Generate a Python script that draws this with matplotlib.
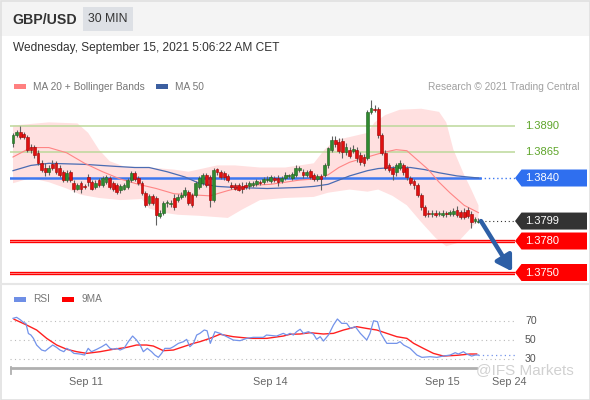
import matplotlib
matplotlib.use('Agg')
import matplotlib.pyplot as plt
from matplotlib.patches import Rectangle, Polygon
import numpy as np

plt.rcParams['font.family'] = ['Liberation Sans', 'DejaVu Sans']

# ---------------- data ----------------
opens = [1.3873,1.3881,1.3884,1.3882,1.3879,1.3870,1.3870,1.3864,1.3854,1.3850,
         1.3846,1.3853,1.3854,1.3850,1.3846,1.3838,1.3846,1.3835,1.3830,1.3835,
         1.3832,1.3841,1.3836,1.3831,1.3838,1.3833,1.3836,1.3840,1.3835,1.3833,
         1.3829,1.3830,1.3831,1.3838,1.3845,1.3840,1.3835,1.3826,1.3816,1.3823,
         1.3821,1.3804,1.3807,1.3816,1.3815,1.3821,1.3819,1.3822,1.3824,1.3827,
         1.3824,1.3824,1.3831,1.3835,1.3843,1.3841,1.3819,1.3849,1.3846,1.3845,
         1.3842,1.3833,1.3833,1.3833,1.3832,1.3833,1.3832,1.3833,1.3834,1.3836,
         1.3836,1.3838,1.3837,1.3840,1.3840,1.3837,1.3840,1.3842,1.3840,1.3843,
         1.3848,1.3846,1.3843,1.3847,1.3843,1.3839,1.3842,1.3843,1.3852,1.3867,
         1.3876,1.3874,1.3875,1.3865,1.3867,1.3866,1.3867,1.3862,1.3860,1.3859,
         1.3903,1.3906,1.3906,1.3881,1.3864,1.3852,1.3850,1.3846,1.3850,1.3852,
         1.3850,1.3840,1.3837,1.3833,1.3824,1.3812,1.3807,1.3806,1.3807,1.3806,
         1.3805,1.3807,1.3806,1.3806,1.3810,1.3808,1.3808,1.3810,1.3806,1.3799,
         1.3798]
highs = [1.3883,1.3886,1.3890,1.3884,1.3881,1.3872,1.3871,1.3867,1.3857,1.3854,
         1.3852,1.3857,1.3856,1.3852,1.3848,1.3848,1.3848,1.3838,1.3835,1.3837,
         1.3834,1.3844,1.3838,1.3838,1.3840,1.3842,1.3843,1.3842,1.3837,1.3835,
         1.3834,1.3835,1.3840,1.3847,1.3847,1.3842,1.3837,1.3828,1.3825,1.3825,
         1.3823,1.3810,1.3818,1.3819,1.3819,1.3825,1.3825,1.3827,1.3831,1.3829,
         1.3826,1.3837,1.3842,1.3845,1.3845,1.3843,1.3850,1.3850,1.3848,1.3847,
         1.3844,1.3836,1.3835,1.3835,1.3836,1.3836,1.3837,1.3837,1.3839,1.3838,
         1.3841,1.3842,1.3843,1.3842,1.3843,1.3842,1.3846,1.3844,1.3846,1.3852,
         1.3851,1.3849,1.3848,1.3849,1.3845,1.3844,1.3844,1.3854,1.3870,1.3880,
         1.3880,1.3878,1.3878,1.3873,1.3870,1.3871,1.3870,1.3865,1.3863,1.3905,
         1.3914,1.3910,1.3908,1.3883,1.3867,1.3854,1.3851,1.3854,1.3857,1.3854,
         1.3851,1.3842,1.3839,1.3835,1.3826,1.3814,1.3810,1.3810,1.3810,1.3809,
         1.3810,1.3809,1.3810,1.3811,1.3813,1.3810,1.3811,1.3812,1.3809,1.3803,
         1.3802]
lows = [1.3870,1.3879,1.3877,1.3877,1.3865,1.3864,1.3859,1.3852,1.3846,1.3842,
        1.3843,1.3848,1.3844,1.3841,1.3836,1.3836,1.3836,1.3827,1.3829,1.3826,
        1.3830,1.3832,1.3829,1.3830,1.3831,1.3831,1.3834,1.3830,1.3828,1.3825,
        1.3826,1.3829,1.3830,1.3836,1.3837,1.3833,1.3824,1.3812,1.3814,1.3814,
        1.3795,1.3802,1.3805,1.3812,1.3812,1.3810,1.3817,1.3820,1.3822,1.3814,
        1.3812,1.3822,1.3830,1.3833,1.3831,1.3812,1.3817,1.3843,1.3839,1.3838,
        1.3836,1.3830,1.3829,1.3828,1.3826,1.3830,1.3830,1.3831,1.3832,1.3833,
        1.3834,1.3836,1.3835,1.3836,1.3832,1.3835,1.3838,1.3840,1.3838,1.3841,
        1.3846,1.3840,1.3841,1.3839,1.3837,1.3837,1.3829,1.3841,1.3850,1.3865,
        1.3870,1.3864,1.3859,1.3862,1.3859,1.3864,1.3855,1.3852,1.3851,1.3857,
        1.3901,1.3903,1.3878,1.3862,1.3848,1.3846,1.3838,1.3842,1.3848,1.3843,
        1.3838,1.3833,1.3830,1.3822,1.3810,1.3803,1.3803,1.3803,1.3803,1.3804,
        1.3803,1.3803,1.3804,1.3804,1.3803,1.3801,1.3801,1.3802,1.3792,1.3797,
        1.3797]
closes = [1.3881,1.3884,1.3879,1.3879,1.3867,1.3867,1.3862,1.3854,1.3848,1.3846,
          1.3850,1.3850,1.3846,1.3843,1.3838,1.3845,1.3838,1.3830,1.3833,1.3830,
          1.3831,1.3836,1.3830,1.3835,1.3833,1.3840,1.3841,1.3831,1.3830,1.3827,
          1.3832,1.3833,1.3838,1.3845,1.3839,1.3835,1.3826,1.3814,1.3823,1.3816,
          1.3805,1.3807,1.3816,1.3817,1.3816,1.3812,1.3822,1.3824,1.3829,1.3816,
          1.3814,1.3835,1.3840,1.3843,1.3833,1.3819,1.3848,1.3846,1.3841,1.3841,
          1.3838,1.3831,1.3830,1.3829,1.3830,1.3831,1.3835,1.3835,1.3837,1.3835,
          1.3839,1.3839,1.3841,1.3838,1.3836,1.3840,1.3843,1.3843,1.3844,1.3850,
          1.3850,1.3843,1.3846,1.3841,1.3839,1.3842,1.3839,1.3852,1.3869,1.3876,
          1.3872,1.3866,1.3865,1.3870,1.3861,1.3868,1.3859,1.3855,1.3854,1.3903,
          1.3907,1.3905,1.3881,1.3864,1.3850,1.3848,1.3844,1.3852,1.3854,1.3846,
          1.3841,1.3835,1.3833,1.3824,1.3812,1.3805,1.3806,1.3807,1.3805,1.3807,
          1.3807,1.3806,1.3808,1.3809,1.3805,1.3803,1.3803,1.3804,1.3798,1.3801,
          1.3799]

ma20_x = [0,5,10,15,20,25,30,35,40,45,50,55,60,66,72,76,80,84,88,91,94,99,103,107,110,113,116,119,122,126,130]
ma20_y = [1.3860,1.3869,1.3869,1.3864,1.3854,1.3846,1.3839,1.3834,1.3830,1.3825,1.3824,1.3823,1.3828,
          1.3833,1.3834,1.3836,1.3838,1.3839,1.3843,1.3850,1.3855,1.3860,1.3864,1.3867,1.3866,1.3857,
          1.3848,1.3836,1.3826,1.3814,1.3807]
ma50_x = [0,5,10,20,29,34,38,43,48,52,57,62,71,80,84,88,91,94,99,102,106,111,115,119,124,130]
ma50_y = [1.3847,1.3852,1.3854,1.3853,1.3851,1.3850,1.3850,1.3846,1.3841,1.3835,1.3832,1.3831,1.3830,
          1.3831,1.3832,1.3834,1.3838,1.3842,1.3847,1.3849,1.3850,1.3850,1.3848,1.3845,1.3842,1.3840]
bb_up_x = [0,10,18,21,24,27,31,38,45,49,53,57,62,69,76,84,87,90,94,99,101,104,108,114,119,121,123,126,128,130]
bb_up_y = [1.3890,1.3893,1.3892,1.3883,1.3867,1.3856,1.3851,1.3850,1.3848,1.3846,1.3849,1.3852,1.3852,
           1.3850,1.3850,1.3854,1.3867,1.3876,1.3879,1.3883,1.3893,1.3900,1.3905,1.3906,1.3903,1.3893,
           1.3867,1.3843,1.3829,1.3814]
bb_lo_x = [0,5,10,15,19,24,30,36,38,42,46,52,56,60,64,69,76,84,88,94,99,102,106,110,114,118,121,124,127,130]
bb_lo_y = [1.3835,1.3840,1.3836,1.3830,1.3824,1.3821,1.3819,1.3820,1.3811,1.3807,1.3805,1.3804,1.3803,
           1.3802,1.3810,1.3819,1.3821,1.3822,1.3826,1.3829,1.3827,1.3829,1.3823,1.3814,1.3798,1.3783,
           1.3775,1.3778,1.3789,1.3800]

rsi_x = [0,1,2,3,3.6,4.3,5,5.7,6.6,8,9,9.9,11.1,12.2,13.1,14.2,15,15.9,17,18.7,20,21,21.9,23.4,24.8,
         26,27.1,28,29,29.9,31,32.2,33.4,34.5,35.5,36.4,37.5,38.7,39.6,40.6,41.5,42.4,43.9,44.8,46.2,
         47.6,48.5,49.4,50.4,51.3,52.2,53.4,54.2,55.1,56.4,57.8,59.7,61.5,63.4,65.3,67.1,69.9,70.8,
         73.6,75.5,76.4,77.4,78.3,79.2,80.2,81.1,82.5,83.9,84.8,85.8,86.7,88.1,89.5,90.6,91.8,93.2,
         94.2,95.6,97,98.8,99.7,100.7,101.8,102.7,104.4,106.3,107.2,108.1,109.1,110.9,112.8,114.2,
         116.5,118.4,120.2,122.1,123.5,124.4,125.8,126.7,128.1,129.1,130]
rsi_v = [73.4,74.5,72,68.7,68,57,55.4,51.8,44.6,39.2,38.1,41,44.6,42,39.2,37.4,41,39.2,35.6,34.9,33.8,
         41,37.4,40,42.8,45.7,41,40,41,39.2,41,48.2,54.3,50,44.6,37.4,41,37.4,33.8,31.3,35.6,41,41,
         42.8,46.4,48.2,50.7,42.8,46.4,55.4,57.2,60.8,60,46.4,59,57.2,53.6,50,49.3,51.8,52.9,52.9,55.4,
         54.3,57.2,55.4,57.2,55.4,59,61.6,57.2,59,56.5,50.8,53.6,48.9,55.4,66.2,72.7,68,68,62.6,64.4,
         57.2,50,57.2,70.8,69.8,57.2,46.4,46.4,46.4,48.2,44.6,41,33.8,31.3,32,31.3,32.7,33.8,36.3,34.9,
         37.4,34.9,32.7,33.8,33.8]
ma9_x = [0.3,3.8,6.6,9.4,12.2,15,17.8,20.6,24.3,28,31.7,34.5,37.3,39.2,42,44.8,47.6,50.4,52.2,55,57.8,
         61.5,66.2,70.9,75.5,77.4,80.2,83,86.7,89.5,92.3,96,98.8,101.6,104.4,107.2,110,111.9,114.6,
         117.4,120.2,124,127.7,129.5]
ma9_v = [72.4,66.2,60.8,51.8,44.6,40,37.4,35.6,37.4,40,42,44.6,44.6,43.5,38.5,39.2,42.8,46.4,48.2,51.8,
         56.2,53.6,51.8,51.8,54.3,56.2,56.5,57.9,56.5,57.2,60.8,64.4,62.5,60.8,57.2,53.6,51.8,46.4,41,
         35.6,32.7,33.5,34.9,34.9]

levels_green = [1.3890, 1.3865]
level_pivot = 1.3840
level_last = 1.3799
levels_red = [1.3780, 1.3750]
rsi_levels = [70, 50, 30]
tick_pos = [20.4, 72, 120, 138.5]
tick_labels = ['Sep 11', 'Sep 14', 'Sep 15', 'Sep 24']

# ---------------- figure ----------------
W, H = 590, 400
fig = plt.figure(figsize=(5.9, 4.0), dpi=100)
fig.patch.set_facecolor('white')

def fx(px):
    return px / W

def fy(py):
    return 1 - py / H

ax = fig.add_axes([fx(10), fy(283), fx(515) - fx(10), fy(60) - fy(283)])
rax = fig.add_axes([fx(10), fy(368), fx(515) - fx(10), fy(290) - fy(368)])
ov = fig.add_axes([0, 0, 1, 1], zorder=5)
ov.set_xlim(0, W)
ov.set_ylim(H, 0)
ov.axis('off')

XMIN, XMAX = -0.84, 140.2
ax.set_xlim(XMIN, XMAX)
ax.set_ylim(1.3740, 1.39524)
ax.axis('off')
rax.set_xlim(XMIN, XMAX)
rax.set_ylim(19.8, 104)

n = len(closes)
xs = np.arange(n)
o = np.array(opens); c = np.array(closes); h = np.array(highs); l = np.array(lows)

# Bollinger band
ax.fill(np.concatenate([bb_up_x, bb_lo_x[::-1]]), np.concatenate([bb_up_y, bb_lo_y[::-1]]),
        color='#ffe0e0', lw=0, zorder=1)

# levels
for lv in levels_green:
    ax.axhline(lv, color='#bcd89a', lw=1.1, zorder=2)
ax.plot([XMIN, n - 0.5], [level_pivot] * 2, color='#3d78f0', lw=1.8, zorder=2)
ax.plot([n - 0.5, XMAX], [level_pivot] * 2, color='#3d78f0', lw=1.0, ls=(0, (1, 2)), zorder=2)
ax.plot([n - 0.3, XMAX], [level_last] * 2, color='#333333', lw=0.8, ls=(0, (1, 2.5)), zorder=2)
for lv in levels_red:
    ax.axhline(lv, color='#ff0000', lw=2.4, zorder=2)
    ax.axhline(lv, color='#ffb0b0', lw=0.5, zorder=2)

# moving averages
ax.plot(ma50_x, ma50_y, color='#4a6cb3', lw=0.9, zorder=3)
ax.plot(ma20_x, ma20_y, color='#ff8585', lw=0.8, zorder=3)

# candles
ax.vlines(xs, l, h, color='#606060', lw=0.8, zorder=4)
up = c >= o
body_col = np.where(up, '#2f8a2f', '#e01010')
edge_col = np.where(up, '#1f5f1f', '#a00000')
ax.bar(xs, np.maximum(np.abs(c - o), 0.00005), bottom=np.minimum(o, c), width=0.78,
       color=body_col, edgecolor=edge_col, lw=0.4, zorder=5)

# arrow
ax.annotate('', xy=(139.4, 1.3751), xytext=(130.7, 1.3799),
            arrowprops=dict(arrowstyle='-|>,head_length=0.9,head_width=0.55', color='#2d5fa6',
                            lw=3.2, shrinkA=0, shrinkB=0), zorder=6)

# RSI panel
for v in rsi_levels:
    rax.axhline(v, color='#bbbbbb', lw=0.8, ls=(0, (1, 3)), zorder=1)
rax.plot(rsi_x, rsi_v, color='#7393ea', lw=0.9, zorder=3)
rax.plot(ma9_x, ma9_v, color='#ff2020', lw=1.0, zorder=2)
rax.plot([rsi_x[-1], XMAX], [rsi_v[-1]] * 2, color='#7393ea', lw=0.9, ls=(0, (1, 2.5)), zorder=2)
for s in ['top', 'left', 'right']:
    rax.spines[s].set_visible(False)
rax.spines['bottom'].set_color('#b0b0b0')
rax.spines['bottom'].set_linewidth(2)
rax.spines['bottom'].set_bounds(XMIN + 0.4, 129.3)
rax.set_yticks([])
rax.set_xticks(tick_pos, tick_labels)
rax.tick_params(axis='x', length=0, pad=6.5, labelsize=7.8, labelcolor='#666666')
rax.patch.set_alpha(0)

# ---------------- overlay decorations ----------------
def price_py(p):
    disp = ax.transData.transform((0, p))
    return ov.transData.inverted().transform(disp)[1]

def rsi_py(v):
    disp = rax.transData.transform((0, v))
    return ov.transData.inverted().transform(disp)[1]

# header
ov.add_patch(Rectangle((0, 0), W, 36, color='#f4f4f4', lw=0, zorder=0))
ov.add_patch(Rectangle((83, 7), 50, 24, color='#dde0e5', lw=0, zorder=1))
ov.text(12, 19.5, 'GBP/USD', fontsize=10.2, fontweight='bold', color='#333333', va='center', ha='left')
ov.text(108, 19.5, '30 MIN', fontsize=8.8, color='#333333', va='center', ha='center')
ov.text(13, 48.5, 'Wednesday, September 15, 2021 5:06:22 AM CET', fontsize=8.6, color='#333333',
        va='center', ha='left')

# legend
ov.add_patch(Rectangle((14, 84), 12, 4.5, color='#ff8080', lw=0))
ov.text(33, 86.5, 'MA 20 + Bollinger Bands', fontsize=7.3, color='#777777', va='center')
ov.add_patch(Rectangle((156, 84), 12, 4.5, color='#3c5fa0', lw=0))
ov.text(175, 86.5, 'MA 50', fontsize=7.3, color='#777777', va='center')
ov.text(580, 86.5, 'Research \u00a9 2021 Trading Central', fontsize=7.3, color='#a0a0a0',
        va='center', ha='right')

ov.add_patch(Rectangle((14, 297), 12, 4.5, color='#6f8fe6', lw=0))
ov.text(33, 299.5, 'RSI', fontsize=7.3, color='#777777', va='center')
ov.add_patch(Rectangle((62, 297), 12, 4.5, color='#ff0000', lw=0))
ov.text(82, 299.5, '9MA', fontsize=7.3, color='#777777', va='center')

# right-hand level labels
for lv in levels_green:
    ov.text(525, price_py(lv), f'{lv:.4f}', fontsize=8, color='#5ea52a', va='center', ha='left')

def tag(p, col):
    y = price_py(p)
    ov.add_patch(Polygon([(515, y), (521.5, y - 8.5), (587, y - 8.5), (587, y + 8.5), (521.5, y + 8.5)],
                         closed=True, color=col, lw=0, zorder=3))
    ov.text(525, y, f'{p:.4f}', fontsize=8, color='white', va='center', ha='left', zorder=4)

tag(level_pivot, '#2f6fef')
tag(level_last, '#333333')
for lv in levels_red:
    tag(lv, '#ff0000')

for v in rsi_levels:
    ov.text(525, rsi_py(v), str(v), fontsize=7.6, color='#555555', va='center', ha='left')

# axis start tick
ov.plot([11, 11], [367, 374], color='#b0b0b0', lw=1.3)

# separators / frame
ov.plot([0, W], [283.5, 283.5], color='#e6e6e6', lw=1.5)
ov.add_patch(Rectangle((0.5, 0.5), W - 1, H - 1, fill=False, ec='#e0e0e0', lw=1.2))

# watermark
ov.text(476, 370, '@IFS Markets', fontsize=11, color='#cccccc', va='center', ha='left', alpha=0.9)

fig.savefig('out.png', dpi=100)
